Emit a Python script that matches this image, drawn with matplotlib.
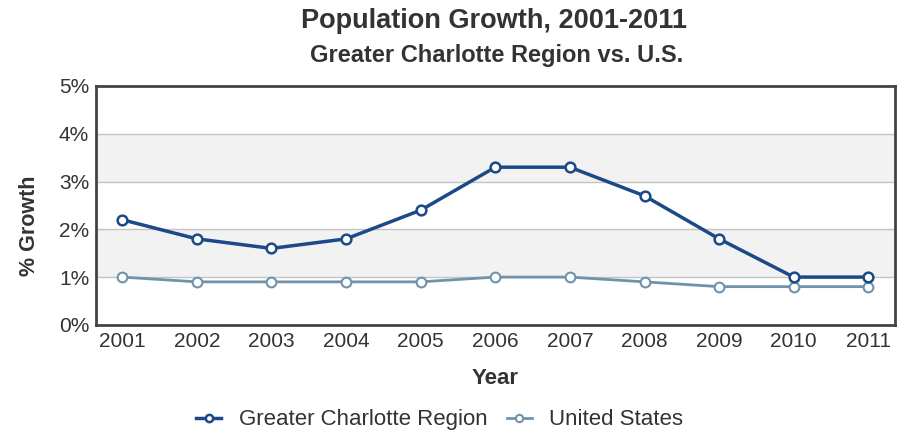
import matplotlib
matplotlib.use("Agg")
import matplotlib.pyplot as plt
from matplotlib.ticker import FuncFormatter

years = [2001, 2002, 2003, 2004, 2005, 2006, 2007, 2008, 2009, 2010, 2011]
charlotte = [2.2, 1.8, 1.6, 1.8, 2.4, 3.3, 3.3, 2.7, 1.8, 1.0, 1.0]
us = [1.0, 0.9, 0.9, 0.9, 0.9, 1.0, 1.0, 0.9, 0.8, 0.8, 0.8]
yticks = [0, 1, 2, 3, 4, 5]

plt.rcParams['font.family'] = ['Liberation Sans', 'DejaVu Sans']
txt = '#333333'
fig = plt.figure(figsize=(9.07, 4.32), dpi=100)
ax = fig.add_axes([0.106, 0.248, 0.881, 0.553])

for lo, hi in [(1, 2), (3, 4)]:
    ax.axhspan(lo, hi, color='#f2f2f2', zorder=0, lw=0)
for y in [1, 2, 3, 4]:
    ax.axhline(y, color='#c4c4c4', lw=1, zorder=1)

c1 = '#1b4a86'
c2 = '#6f93aa'
ax.plot(years, us, color=c2, lw=2, marker='o', ms=7, mfc='white', mec=c2, mew=1.5,
        zorder=3, label='United States')
ax.plot(years, charlotte, color=c1, lw=2.5, marker='o', ms=7, mfc='white', mec=c1, mew=1.8,
        zorder=4, label='Greater Charlotte Region')

ax.set_xlim(2001 - 0.35, 2011 + 0.36)
ax.set_ylim(0, 5)
ax.set_xticks(years)
ax.set_yticks(yticks)
ax.yaxis.set_major_formatter(FuncFormatter(lambda v, p: f"{int(v)}%"))
ax.tick_params(length=0, labelsize=15, colors=txt, pad=5)
for s in ax.spines.values():
    s.set_color('#444444')
    s.set_linewidth(2)

fig.text(0.546, 0.123, 'Year', ha='center', va='center', fontsize=16,
         fontweight='bold', color=txt)
fig.text(0.032, 0.477, '% Growth', ha='center', va='center', rotation=90,
         fontsize=15.5, fontweight='bold', color=txt)

fig.text(0.545, 0.952, 'Population Growth, 2001-2011', ha='center', va='center',
         fontsize=19.5, fontweight='bold', color=txt)
fig.text(0.548, 0.872, 'Greater Charlotte Region vs. U.S.', ha='center', va='center',
         fontsize=17, fontweight='bold', color=txt)

h, l = ax.get_legend_handles_labels()
fig.legend(h[::-1], l[::-1], loc='center', bbox_to_anchor=(0.485, 0.028), ncol=2,
           frameon=False, fontsize=16, handlelength=1.1, markerscale=0.75,
           columnspacing=0.9, handletextpad=0.8, labelcolor=txt)

fig.savefig('out.png', dpi=100)
